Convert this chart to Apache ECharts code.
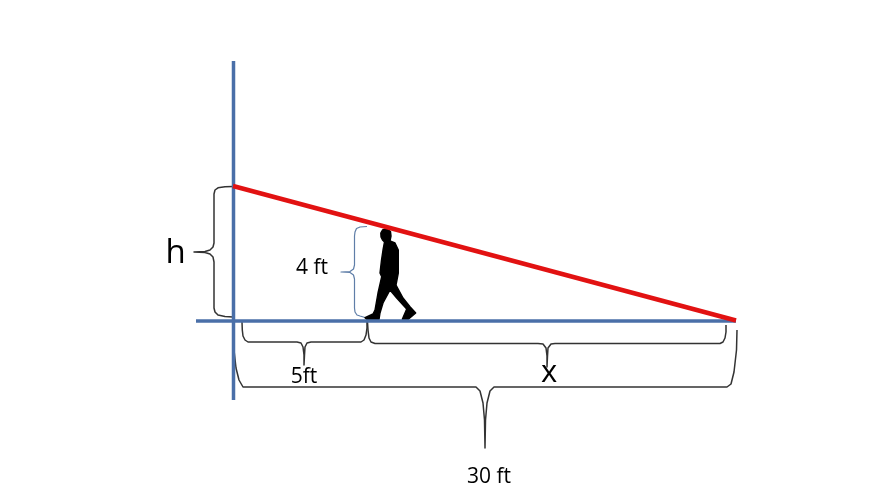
<!DOCTYPE html>
<html><head><meta charset="utf-8">
<style>html,body{margin:0;padding:0;background:#fff}#c{width:882px;height:496px}</style>
<script src="https://cdn.jsdelivr.net/npm/echarts@6/dist/echarts.min.js"></script>
</head><body><div id="c"></div>
<script>
const poleLine = [[233.5,61],[233.5,400]];
const groundLine = [[196,321],[736,321]];
const sightLine = [[233,186],[736,320.5]];
const walker = [[385.5,229],[382.5,230],[380.8,233],[381,237],[382.5,240],[384.5,242],[383,250],[381.5,260],[380,273],[381.7,276.7],[378,293],[375,310],[373,314],[365,317.7],[367,319.5],[379,319.5],[380,313],[383,303],[390,290],[396.7,298],[406.7,309],[402.3,319.3],[408,319.5],[415.7,313],[410,306.7],[403,298],[396,285],[398.3,273],[398.3,250],[395,243],[390,241],[391,236],[390.5,231.5],[388,229.5]];
const braceH = [[233,186.5],[225,186.8],[218,187.8],[215,190],[214,194],[214,243],[213,247],[210,250],[205,251.5],[194,252],[205,252.5],[210,254],[213,257],[214,262],[214,308],[215,312],[218,315],[225,316.5],[233,317]];
const brace4ft = [[367,226.5],[360,227],[356.5,228.5],[355,232],[354.5,236],[354.5,265],[353.5,269],[350,271.5],[341,272],[350,272.5],[353.5,275],[354.5,279],[354.5,308],[355,312],[357,315],[360,316],[365,317.5]];
const brace5ft = [[242,322],[242.3,330],[243,336],[245,340],[248,342],[297,342],[301,343],[303,347],[304,355],[304,365],[304.5,355],[305,347],[307,343],[311,342],[361,342],[364,340],[366,335],[367,328],[367,322]];
const braceX = [[367.5,322],[368,330],[369,338],[371,342],[375,343.5],[538,343.5],[543,344],[546,348],[547,356],[547,367],[547.5,356],[548,348],[551,344],[555,343.5],[720,343.5],[723,342],[725,338],[726,332],[726,325]];
const brace30 = [[233,330],[234,350],[236,368],[239,380],[243,387],[476,387],[480,391],[483,403],[484.5,420],[485,448],[485.5,420],[487,403],[490,391],[494,387],[727,387],[731,384],[734,372],[736.5,350],[737,330]];
const textLabels = ['h','4 ft','5ft','x','30 ft'];
const textSpots = [[175.5,254],[312,268],[304,377],[549,373],[489,477]];
const textSizes = [33,21,21,31,21];

const line = (data,color,width,z)=>({type:'line',data,symbol:'none',silent:true,animation:false,z,
  lineStyle:{color,width,cap:'butt',join:'round'}});
const option = {
  animation:false,
  backgroundColor:'#fff',
  grid:{left:0,right:0,top:0,bottom:0},
  xAxis:{type:'value',min:0,max:882,show:false},
  yAxis:{type:'value',min:0,max:496,inverse:true,show:false},
  series:[
    line(braceH,'#333',1.5,2),
    line(brace4ft,'#5f7ea8',1.2,2),
    line(brace5ft,'#333',1.5,2),
    line(braceX,'#333',1.5,2),
    line(brace30,'#333',1.5,2),
    {type:'custom',coordinateSystem:'cartesian2d',silent:true,z:3,data:[[0,0]],
     renderItem:(p,api)=>({type:'polygon',shape:{points:walker.map(w=>api.coord(w))},style:{fill:'#000',stroke:'#000',lineWidth:1.4,lineJoin:'round'}})},
    line(poleLine,'#4a6fa8',3.5,4),
    line(groundLine,'#4a6fa8',3.5,4),
    line(sightLine,'#e21212',4.5,5),
    {type:'scatter',symbolSize:0,silent:true,z:6,
     data:textLabels.map((t,i)=>({value:textSpots[i],name:t,
       label:{show:true,position:'inside',formatter:t,fontSize:textSizes[i],
         fontFamily:'Open Sans',color:'#000',opacity:1}}))}
  ]
};
echarts.init(document.getElementById('c'),null,{renderer:'canvas'}).setOption(option);
</script></body></html>
